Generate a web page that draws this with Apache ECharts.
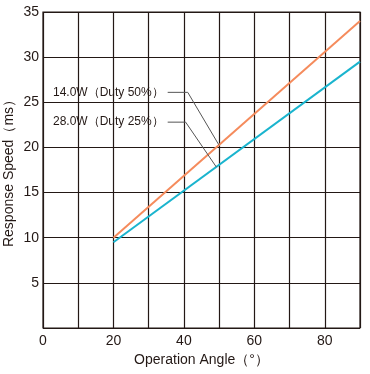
<!DOCTYPE html>
<html>
<head>
<meta charset="utf-8">
<script src="https://cdn.jsdelivr.net/npm/echarts@6/dist/echarts.min.js"></script>
<style>html,body{margin:0;padding:0;background:#fff}#c{width:370px;height:374px}</style>
</head>
<body>
<div id="c"></div>
<script>
// Data
const xTicks = [0, 20, 40, 60, 80];
const yTicks = [5, 10, 15, 20, 25, 30, 35];
const angle = [20, 90];
const duty50 = [10.0, 34.0];
const duty25 = [9.5, 29.5];
const label50 = '14.0W（Duty 50%）';
const label25 = '28.0W（Duty 25%）';
// leader lines in data coordinates: [x, y]
const leader50 = [[35.4, 26.1], [41.1, 26.1], [49.9, 20.3]];
const leader25 = [[35.4, 22.8], [40.5, 22.8], [49.2, 17.84]];

const font = 'Liberation Sans, Arial, sans-serif';
const ink = '#231815';
const chart = echarts.init(document.getElementById('c'));
function leader(pts, text) {
  return {
    type: 'line', symbol: 'circle', symbolSize: 0, z: 4,
    lineStyle: {color: '#555', width: 1},
    data: pts.map((p, i) => ({value: p, label: {show: i === 0}})),
    label: {show: true, position: 'left', distance: 4, formatter: text, color: ink, fontSize: 12, fontFamily: font}
  };
}
chart.setOption({
  animation: false,
  grid: {left: 43, top: 12, right: 10, bottom: 46, show: true, borderColor: ink, borderWidth: 1.2,
    containLabel: false, outerBoundsMode: 'none'},
  xAxis: {
    type: 'value', min: 0, max: 90, interval: 10,
    name: 'Operation Angle（°）', nameLocation: 'middle', nameGap: 25, nameMoveOverlap: false,
    nameTextStyle: {color: ink, fontSize: 14, fontFamily: font},
    axisLine: {show: false}, axisTick: {show: false},
    splitLine: {show: true, lineStyle: {color: ink, width: 1.2}},
    axisLabel: {color: ink, fontSize: 14, fontFamily: font, margin: 6,
      formatter: v => xTicks.includes(v) ? String(v) : ''}
  },
  yAxis: {
    type: 'value', min: 0, max: 35, interval: 5,
    name: 'Response Speed（ms）', nameLocation: 'middle', nameGap: 27, nameRotate: 90, nameMoveOverlap: false,
    nameTextStyle: {color: ink, fontSize: 14, fontFamily: font},
    axisLine: {show: false}, axisTick: {show: false},
    splitLine: {show: true, lineStyle: {color: ink, width: 1.2}},
    axisLabel: {color: ink, fontSize: 14, fontFamily: font, margin: 4,
      formatter: v => yTicks.includes(v) ? String(v) : ''}
  },
  series: [
    {type: 'line', data: angle.map((a, i) => [a, duty50[i]]), symbol: 'none',
      lineStyle: {color: '#F58B5C', width: 2}, z: 3},
    {type: 'line', data: angle.map((a, i) => [a, duty25[i]]), symbol: 'none',
      lineStyle: {color: '#1AB4CE', width: 2}, z: 3},
    leader(leader50, label50),
    leader(leader25, label25)
  ]
});
</script>
</body>
</html>
